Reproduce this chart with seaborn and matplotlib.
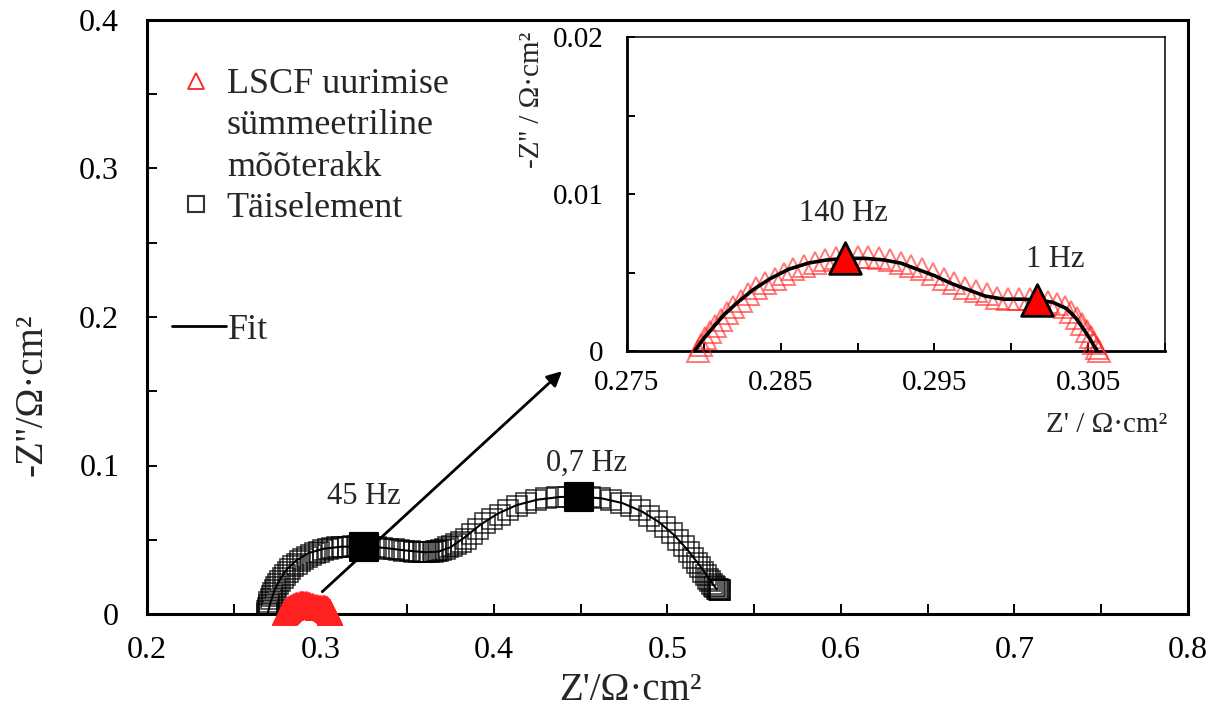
import numpy as np
import pandas as pd
import seaborn as sns
import matplotlib
matplotlib.use("Agg")
import matplotlib.pyplot as plt
from matplotlib.lines import Line2D

sns.set_theme(style="ticks")
plt.rcParams['font.family'] = ['Liberation Serif', 'DejaVu Sans']

# --- Full cell impedance (Täiselement), Nyquist data ---
full_zre = [0.2690, 0.2693, 0.2697, 0.2701, 0.2706, 0.2712, 0.2719, 0.2727, 0.2736, 0.2746,
            0.2757, 0.2769, 0.2782, 0.2796, 0.2811, 0.2827, 0.2844, 0.2862, 0.2881, 0.2901,
            0.2922, 0.2944, 0.2967, 0.2991, 0.3016, 0.3042, 0.3069, 0.3097, 0.3126, 0.3156,
            0.3187, 0.3219, 0.3252, 0.3286, 0.3320, 0.3354, 0.3388, 0.3421, 0.3453, 0.3484,
            0.3513, 0.3540, 0.3565, 0.3588, 0.3609, 0.3628, 0.3646, 0.3663, 0.3680, 0.3697,
            0.3715, 0.3735, 0.3757, 0.3781, 0.3808, 0.3838, 0.3871, 0.3907, 0.3946, 0.3988,
            0.4033, 0.4081, 0.4132, 0.4186, 0.4243, 0.4302, 0.4363, 0.4425, 0.4488, 0.4551,
            0.4613, 0.4674, 0.4733, 0.4790, 0.4844, 0.4895, 0.4942, 0.4986, 0.5026, 0.5062,
            0.5094, 0.5122, 0.5147, 0.5169, 0.5188, 0.5205, 0.5220, 0.5233, 0.5245, 0.5256,
            0.5266, 0.5275, 0.5283, 0.5290, 0.5296, 0.5301, 0.5305]
full_zim = [0.0000, 0.0020, 0.0040, 0.0060, 0.0080, 0.0100, 0.0120, 0.0140, 0.0160, 0.0180,
            0.0200, 0.0220, 0.0240, 0.0260, 0.0280, 0.0300, 0.0320, 0.0340, 0.0355, 0.0370,
            0.0385, 0.0398, 0.0410, 0.0420, 0.0430, 0.0438, 0.0444, 0.0449, 0.0452, 0.0454,
            0.0455, 0.0455, 0.0454, 0.0452, 0.0449, 0.0445, 0.0440, 0.0435, 0.0430, 0.0425,
            0.0421, 0.0418, 0.0416, 0.0415, 0.0415, 0.0416, 0.0418, 0.0421, 0.0426, 0.0432,
            0.0439, 0.0448, 0.0459, 0.0472, 0.0487, 0.0503, 0.0540, 0.0575, 0.0610, 0.0640,
            0.0670, 0.0700, 0.0727, 0.0750, 0.0767, 0.0779, 0.0786, 0.0789, 0.0789, 0.0786,
            0.0779, 0.0767, 0.0749, 0.0726, 0.0697, 0.0663, 0.0625, 0.0585, 0.0543, 0.0500,
            0.0458, 0.0418, 0.0380, 0.0345, 0.0314, 0.0286, 0.0261, 0.0239, 0.0220, 0.0204,
            0.0190, 0.0179, 0.0171, 0.0166, 0.0163, 0.0162, 0.0162]

full_fit_zre = [0.2695, 0.2712, 0.2735, 0.2765, 0.2805, 0.2860, 0.2930, 0.3020, 0.3120, 0.3245,
                0.3370, 0.3490, 0.3600, 0.3680, 0.3750, 0.3830, 0.3920, 0.4020, 0.4130, 0.4250,
                0.4380, 0.4500, 0.4620, 0.4740, 0.4850, 0.4950, 0.5040, 0.5120, 0.5180, 0.5230,
                0.5265, 0.5285]
full_fit_zim = [0.0000, 0.0080, 0.0160, 0.0230, 0.0300, 0.0360, 0.0410, 0.0440, 0.0453, 0.0455,
                0.0445, 0.0428, 0.0416, 0.0420, 0.0450, 0.0515, 0.0600, 0.0675, 0.0733, 0.0770,
                0.0788, 0.0790, 0.0779, 0.0747, 0.0692, 0.0620, 0.0530, 0.0425, 0.0335, 0.0255,
                0.0195, 0.0165]

full_marked_zre = [0.3252, 0.4488]
full_marked_zim = [0.0454, 0.0789]
full_marked_labels = ["45 Hz", "0,7 Hz"]
full_label_offsets = [(0, 36), (6, 24)]

# --- LSCF symmetrical measuring cell ---
lscf_zre = [0.2796, 0.2798, 0.2801, 0.2804, 0.2807, 0.2811, 0.2815, 0.2819, 0.2824, 0.2829,
            0.2834, 0.2840, 0.2846, 0.2852, 0.2858, 0.2865, 0.2872, 0.2879, 0.2886, 0.2893,
            0.2900, 0.2907, 0.2914, 0.2921, 0.2928, 0.2935, 0.2942, 0.2949, 0.2956, 0.2963,
            0.2970, 0.2977, 0.2984, 0.2991, 0.2998, 0.3005, 0.3012, 0.3018, 0.3024, 0.3030,
            0.3035, 0.3039, 0.3043, 0.3046, 0.3049, 0.3052, 0.3054, 0.3056, 0.3057]
lscf_zim = [0.0000, 0.0004, 0.0008, 0.0012, 0.0016, 0.0020, 0.0024, 0.0028, 0.0032, 0.0036,
            0.0040, 0.0043, 0.0046, 0.0049, 0.0052, 0.0054, 0.0056, 0.0058, 0.0059, 0.0060,
            0.0060, 0.0060, 0.0059, 0.0058, 0.0056, 0.0054, 0.0052, 0.0049, 0.0046, 0.0043,
            0.0040, 0.0038, 0.0036, 0.0034, 0.0033, 0.0033, 0.0033, 0.0032, 0.0031, 0.0030,
            0.0028, 0.0025, 0.0021, 0.0017, 0.0013, 0.0009, 0.0005, 0.0002, 0.0000]

lscf_fit_zre = [0.2794, 0.2800, 0.2806, 0.2813, 0.2822, 0.2832, 0.2843, 0.2855, 0.2868, 0.2880,
                0.2892, 0.2905, 0.2917, 0.2928, 0.2939, 0.2950, 0.2961, 0.2972, 0.2983, 0.2995,
                0.3007, 0.3017, 0.3027, 0.3036, 0.3042, 0.3047, 0.3051, 0.3054, 0.3056]
lscf_fit_zim = [0.0000, 0.0008, 0.0015, 0.0023, 0.0031, 0.0039, 0.0046, 0.0052, 0.0056, 0.0058,
                0.0059, 0.0059, 0.0058, 0.0056, 0.0052, 0.0048, 0.0043, 0.0039, 0.0035, 0.0033,
                0.0033, 0.00325, 0.0031, 0.0027, 0.0021, 0.0014, 0.0008, 0.0003, 0.0000]

lscf_marked_zre = [0.2892, 0.3017]
lscf_marked_zim = [0.0059, 0.00325]
lscf_marked_labels = ["140 Hz", "1 Hz"]
lscf_label_offsets = [(-1, 32), (13, 29)]

# arrow from the small LSCF arc towards the zoomed panel
arrow_from = (0.3010, 0.0150)
arrow_to = (0.4392, 0.1635)

W, H = 1209, 715
fig = plt.figure(figsize=(W / 100, H / 100), dpi=100)


def fx(px):
    return px / W


def fy(py):
    return 1 - py / H


ax = fig.add_axes([fx(147), fy(614), fx(1188) - fx(147), fy(20) - fy(614)])
ins = fig.add_axes([fx(627), fy(351), fx(1165) - fx(627), fy(37) - fy(351)])

red = "#ff2020"

# ---- main panel ----
sns.lineplot(x=full_zre, y=full_zim, sort=False, estimator=None, ax=ax,
             linestyle="", marker="s", markersize=14, mfc="none", mec="black",
             mew=1.2, alpha=0.75, zorder=3)
sns.lineplot(x=full_fit_zre, y=full_fit_zim, sort=False, estimator=None, ax=ax,
             color="black", lw=1.5, zorder=4)
sns.lineplot(x=lscf_zre, y=lscf_zim, sort=False, estimator=None, ax=ax,
             linestyle="", marker="^", markersize=15, mfc="none", mec=red,
             mew=2.8, zorder=5, clip_on=False)
sns.scatterplot(x=full_marked_zre, y=full_marked_zim, ax=ax, marker="s", s=380,
                color="black", edgecolor="black", zorder=6)
for xv, yv, lab, off in zip(full_marked_zre, full_marked_zim, full_marked_labels,
                            full_label_offsets):
    ax.annotate(lab, (xv, yv), xytext=off, textcoords="offset points",
                ha="center", va="center", fontsize=22)

ax.annotate("", xy=arrow_to, xytext=arrow_from,
            arrowprops=dict(arrowstyle="-|>", color="black", lw=2,
                            mutation_scale=22, shrinkA=0, shrinkB=0))

ax.set_xlim(0.2, 0.8)
ax.set_ylim(0, 0.4)
ax.set_xticks(np.arange(0.2, 0.81, 0.1))
ax.set_xticklabels(["0.2", "0.3", "0.4", "0.5", "0.6", "0.7", "0.8"])
ax.set_xticks(np.arange(0.25, 0.8, 0.1), minor=True)
ax.set_yticks(np.arange(0, 0.41, 0.1))
ax.set_yticklabels(["0", "0.1", "0.2", "0.3", "0.4"])
ax.set_yticks(np.arange(0.05, 0.4, 0.1), minor=True)
ax.tick_params(which="both", direction="in", length=7, width=1.4, labelsize=23,
               colors="black")
ax.tick_params(axis="x", which="major", pad=16)
ax.tick_params(axis="y", which="major", pad=20)
for s in ax.spines.values():
    s.set_linewidth(2.2)
    s.set_color("black")
ax.set_xlabel("")
ax.set_ylabel("")

fig.text(fx(630), fy(690), "Z'/Ω·cm²", ha="center", va="center", fontsize=28)
fig.text(fx(32), fy(395), "-Z''/Ω·cm²", ha="center", va="center", fontsize=28,
         rotation=90)

# legend for the data series
blank = Line2D([], [], linestyle="none", marker=None)
h_tri = Line2D([], [], linestyle="none", marker="^", markersize=11, mfc="none",
               mec=red, mew=1.3)
h_sq = Line2D([], [], linestyle="none", marker="s", markersize=11, mfc="none",
              mec="#333333", mew=1.5)
leg1 = ax.legend([h_tri, blank, blank, h_sq],
                 ["LSCF uurimise", "sümmeetriline", "mõõterakk", "Täiselement"],
                 loc="upper left", bbox_to_anchor=(fx(178), fy(68)),
                 bbox_transform=fig.transFigure, frameon=False, fontsize=26,
                 handlelength=1.0, handletextpad=0.35, labelspacing=0.22,
                 borderpad=0, borderaxespad=0)
ax.add_artist(leg1)
h_fit = Line2D([], [], color="black", lw=2)
ax.legend([h_fit], ["Fit"], loc="center left",
          bbox_to_anchor=(fx(172), fy(330)), bbox_transform=fig.transFigure,
          frameon=False, fontsize=26, handlelength=1.5, handletextpad=0.05,
          borderpad=0, borderaxespad=0)

# ---- zoomed panel ----
ins.set_facecolor("white")
sns.lineplot(x=lscf_zre, y=lscf_zim, sort=False, estimator=None, ax=ins,
             linestyle="", marker="^", markersize=16, mfc="none", mec=red,
             mew=1.4, alpha=0.6, zorder=3, clip_on=False)
sns.lineplot(x=lscf_fit_zre, y=lscf_fit_zim, sort=False, estimator=None, ax=ins,
             color="black", lw=2.6, zorder=4)
sns.scatterplot(x=lscf_marked_zre, y=lscf_marked_zim, ax=ins, marker="^", s=520,
                color="#ff0000", edgecolor="black", linewidth=2, zorder=6)
for xv, yv, lab, off in zip(lscf_marked_zre, lscf_marked_zim, lscf_marked_labels,
                            lscf_label_offsets):
    ins.annotate(lab, (xv, yv), xytext=off, textcoords="offset points",
                 ha="center", va="center", fontsize=22)

ins.set_xlim(0.275, 0.31)
ins.set_ylim(0, 0.02)
ins.set_xticks([0.275, 0.285, 0.295, 0.305])
ins.set_xticklabels(["0.275", "0.285", "0.295", "0.305"])
ins.set_xticks([0.28, 0.29, 0.30, 0.31], minor=True)
ins.set_yticks([0, 0.01, 0.02])
ins.set_yticklabels(["0", "0.01", "0.02"])
ins.set_yticks([0.005, 0.015], minor=True)
ins.tick_params(which="both", direction="in", length=6, width=1.4, labelsize=21,
                colors="black")
ins.tick_params(axis="x", which="major", pad=14)
ins.tick_params(axis="y", which="major", pad=17)
ins.spines["left"].set_linewidth(2.0)
ins.spines["bottom"].set_linewidth(2.0)
ins.spines["top"].set_linewidth(1.1)
ins.spines["right"].set_linewidth(1.1)
for s in ins.spines.values():
    s.set_color("black")
ins.set_xlabel("")
ins.set_ylabel("")

fig.text(fx(1167), fy(425), "Z' / Ω·cm²", ha="right", va="center", fontsize=21)
fig.text(fx(532), fy(32), "-Z'' / Ω·cm²", ha="center", va="top", fontsize=21,
         rotation=90)

fig.savefig("out.png", dpi=100)
